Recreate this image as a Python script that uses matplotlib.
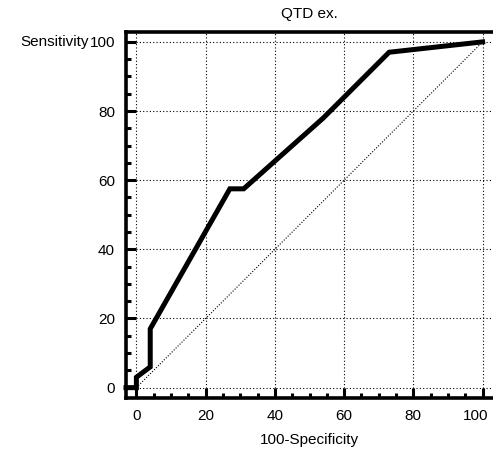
import matplotlib.pyplot as plt
from matplotlib.ticker import MultipleLocator
from matplotlib.transforms import ScaledTranslation

plt.rcParams["font.family"] = ["Liberation Sans", "DejaVu Sans"]

# ROC curve points
fpr = [-3, 0, 0, 4, 4, 27, 31, 54, 73, 100]
sens = [0, 0, 3, 6, 17, 57.5, 57.5, 78, 97, 100]
ref_line = [0, 100]
ticks = [0, 20, 40, 60, 80, 100]

fig = plt.figure(figsize=(4.93, 4.5), dpi=100)
ax = fig.add_axes([126 / 493, 52 / 450, 367 / 493, 366.5 / 450])

ax.plot(ref_line, ref_line, color="black", lw=0.8, ls=(0, (1, 1.5)))
ax.plot(fpr, sens, color="black", lw=3.6, solid_joinstyle="miter", clip_on=False)

ax.set_xlim(-3, 103)
ax.set_ylim(-3, 103)
ax.set_xticks(ticks)
ax.set_yticks(ticks)
ax.xaxis.set_minor_locator(MultipleLocator(5))
ax.yaxis.set_minor_locator(MultipleLocator(5))
ax.tick_params(which="major", direction="in", length=7, width=2.2, labelsize=11, pad=8)
ax.tick_params(which="minor", direction="in", length=3.5, width=2.2)
ax.grid(True, which="major", color="black", lw=0.8, ls=(0, (1, 2)))

# last x label is nudged left so it stays inside the figure
last = ax.get_xticklabels()[-1]
last.set_transform(last.get_transform() + ScaledTranslation(-5 / 72, 0, fig.dpi_scale_trans))

for s in ["left", "bottom", "top"]:
    ax.spines[s].set_linewidth(2.6)
ax.spines["right"].set_visible(False)

ax.set_title("QTD ex.", fontsize=11, pad=10)
ax.set_xlabel("100-Specificity", fontsize=11, labelpad=7)
ax.annotate("Sensitivity", xy=(0, 100), xycoords=("axes fraction", "data"),
            xytext=(-27, 0), textcoords="offset points", ha="right", va="center",
            fontsize=11)

fig.savefig("out.png", dpi=100)
